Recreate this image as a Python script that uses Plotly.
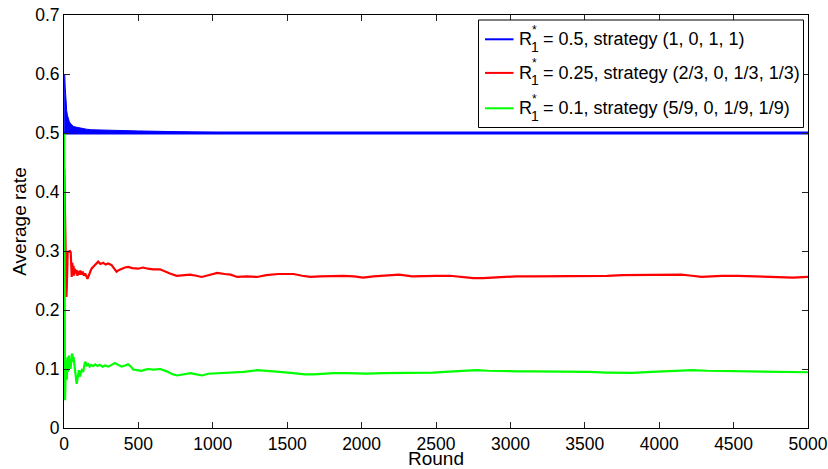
import plotly.graph_objects as go

# ---------------- data ----------------
x_ticks = [0, 500, 1000, 1500, 2000, 2500, 3000, 3500, 4000, 4500, 5000]
y_ticks = [0, 0.1, 0.2, 0.3, 0.4, 0.5, 0.6, 0.7]
y_tick_labels = ["0", "0.1", "0.2", "0.3", "0.4", "0.5", "0.6", "0.7"]

# blue: converges to 0.5, early rounds oscillate densely (drawn as band up to the envelope)
blue_rounds = [1, 5000]
blue_rate = [0.5, 0.5]
blue_env_rounds = [1, 5, 8, 11, 14, 18, 23, 29, 36, 44, 51, 65, 80, 96, 120, 150,
                   185, 240, 300, 400, 500, 700, 900, 1200]
blue_env_rate = [0.600, 0.598, 0.578, 0.560, 0.547, 0.538, 0.530, 0.524, 0.519, 0.516,
                 0.514, 0.511, 0.510, 0.509, 0.5075, 0.5065, 0.5055, 0.505, 0.5045,
                 0.504, 0.5035, 0.5025, 0.502, 0.500]

red_rounds = [2, 6, 10, 13, 16, 19, 22, 25, 30, 35, 40, 45, 49, 52, 56, 60, 64, 68, 72,
              78, 84, 90, 96, 102, 110, 118, 126, 134, 142, 150, 158, 166, 175, 185,
              200, 215, 230, 245, 263, 280, 297, 320, 340, 353, 370, 387, 410, 431,
              460, 498, 530, 565, 600, 645, 680, 712, 757, 800, 846, 890, 925, 970,
              1030, 1080, 1120, 1164, 1230, 1298, 1360, 1440, 1543, 1600, 1655, 1720,
              1800, 1877, 1950, 2010, 2080, 2170, 2252, 2340, 2420, 2500, 2594, 2680,
              2750, 2815, 2900, 2960, 3040, 3150, 3264, 3400, 3528, 3650, 3751, 3850,
              3930, 4050, 4150, 4220, 4285, 4350, 4420, 4530, 4643, 4740, 4820, 4900,
              5000]
red_rate = [0.440, 0.360, 0.300, 0.250, 0.222, 0.240, 0.270, 0.300, 0.298, 0.300, 0.300,
            0.298, 0.270, 0.256, 0.280, 0.262, 0.275, 0.258, 0.270, 0.262, 0.268, 0.258,
            0.266, 0.260, 0.267, 0.260, 0.265, 0.258, 0.262, 0.256, 0.253, 0.258, 0.265,
            0.270, 0.274, 0.279, 0.282, 0.278, 0.280, 0.277, 0.279, 0.276, 0.270, 0.265,
            0.268, 0.270, 0.272, 0.273, 0.271, 0.270, 0.272, 0.270, 0.269, 0.269, 0.266,
            0.262, 0.258, 0.259, 0.260, 0.258, 0.256, 0.259, 0.263, 0.261, 0.260, 0.256,
            0.257, 0.256, 0.259, 0.261, 0.261, 0.258, 0.256, 0.257, 0.258, 0.258, 0.257,
            0.255, 0.257, 0.259, 0.260, 0.257, 0.258, 0.258, 0.258, 0.256, 0.254, 0.254,
            0.255, 0.256, 0.257, 0.257, 0.257, 0.257, 0.257, 0.258, 0.259, 0.259, 0.260,
            0.260, 0.260, 0.258, 0.256, 0.257, 0.258, 0.258, 0.257, 0.256, 0.2545,
            0.255, 0.256]

green_rounds = [1, 3, 5, 7, 9, 11, 13, 15, 17, 19, 21, 23, 26, 29, 33, 36, 40, 44, 48,
                52, 56, 60, 64, 69, 74, 80, 85, 90, 95, 100, 105, 109, 114, 120, 129,
                135, 141, 148, 155, 163, 172, 182, 195, 210, 225, 240, 260, 275, 297,
                320, 342, 365, 387, 410, 431, 450, 465, 490, 521, 548, 565, 600, 647,
                690, 730, 760, 800, 850, 890, 928, 970, 1028, 1100, 1208, 1300, 1380,
                1450, 1540, 1620, 1677, 1740, 1810, 1900, 2030, 2150, 2260, 2400, 2480,
                2560, 2680, 2770, 2850, 2950, 3050, 3150, 3300, 3450, 3528, 3650, 3820,
                3950, 4090, 4224, 4320, 4420, 4530, 4643, 4820, 4920, 5000]
green_rate = [0.500, 0.300, 0.120, 0.047, 0.070, 0.110, 0.090, 0.115, 0.109, 0.082,
              0.100, 0.120, 0.095, 0.115, 0.123, 0.105, 0.112, 0.100, 0.118, 0.124,
              0.126, 0.112, 0.120, 0.110, 0.095, 0.083, 0.075, 0.082, 0.092, 0.098,
              0.090, 0.087, 0.095, 0.098, 0.095, 0.105, 0.112, 0.110, 0.106, 0.108,
              0.104, 0.107, 0.105, 0.108, 0.105, 0.107, 0.104, 0.106, 0.104, 0.107,
              0.110, 0.107, 0.104, 0.106, 0.108, 0.104, 0.099, 0.098, 0.097, 0.099,
              0.100, 0.099, 0.100, 0.096, 0.091, 0.089, 0.091, 0.093, 0.091, 0.089,
              0.092, 0.093, 0.094, 0.095, 0.098, 0.097, 0.095, 0.093, 0.091, 0.091,
              0.092, 0.093, 0.093, 0.092, 0.093, 0.093, 0.094, 0.094, 0.095, 0.097,
              0.098, 0.097, 0.096, 0.096, 0.096, 0.096, 0.095, 0.095, 0.094, 0.0935,
              0.095, 0.0967, 0.098, 0.097, 0.0967, 0.096, 0.096, 0.096, 0.095, 0.0945]

legend_r_values = ["0.5", "0.25", "0.1"]
legend_strategies = ["(1, 0, 1, 1)", "(2/3, 0, 1/3, 1/3)", "(5/9, 0, 1/9, 1/9)"]
colors = ["#0000ff", "#ff0000", "#00ff00"]

# ---------------- figure ----------------
W, H = 828, 469
ML, MT = 64, 15
MR = W - 808
MB = H - 428
PW, PH = W - ML - MR, H - MT - MB


def px(xp):  # window pixel -> paper
    return (xp - ML) / PW


def py(yp):
    return (H - MB - yp) / PH


fig = go.Figure()
fig.add_trace(go.Scatter(x=blue_rounds, y=blue_rate, mode="lines",
                         line=dict(color=colors[0], width=3), hoverinfo="skip",
                         name="R1* = " + legend_r_values[0]))
fig.add_trace(go.Scatter(x=blue_env_rounds, y=blue_env_rate, mode="lines",
                         fill="tonexty", fillcolor=colors[0],
                         line=dict(color=colors[0], width=1), hoverinfo="skip"))
fig.add_trace(go.Scatter(x=red_rounds, y=red_rate, mode="lines",
                         line=dict(color=colors[1], width=2.2), hoverinfo="skip",
                         name="R1* = " + legend_r_values[1]))
fig.add_trace(go.Scatter(x=green_rounds, y=green_rate, mode="lines",
                         line=dict(color=colors[2], width=2.2), hoverinfo="skip",
                         name="R1* = " + legend_r_values[2]))

font_family = "Liberation Sans, Arial, Helvetica, sans-serif"

fig.update_layout(
    width=W, height=H,
    margin=dict(l=ML, r=MR, t=MT, b=MB),
    plot_bgcolor="white", paper_bgcolor="white",
    font=dict(family=font_family, size=18, color="black"),
    showlegend=False,
)
fig.update_xaxes(range=[0, 5000], tickvals=x_ticks, tickformat="d",
                 ticks="inside", ticklen=6, tickcolor="#222", tickwidth=1,
                 showline=True, linecolor="black", linewidth=1, mirror="ticks",
                 showgrid=False, zeroline=False, automargin=False,
                 ticklabeloverflow="allow",
                 tickfont=dict(size=17.5),
                 title=dict(text="Round", font=dict(size=19), standoff=2))
fig.update_yaxes(range=[0, 0.7], tickvals=y_ticks, ticktext=y_tick_labels,
                 ticks="inside", ticklen=6, tickcolor="#222", tickwidth=1,
                 showline=True, linecolor="black", linewidth=1, mirror="ticks",
                 showgrid=False, zeroline=False, automargin=False,
                 ticklabeloverflow="allow",
                 tickfont=dict(size=17.5),
                 title=dict(text="Average rate", font=dict(size=19), standoff=3))

# ---------------- legend (drawn by hand to stack R's super/subscript) ----------------
box = dict(x0=478.5, x1=803.5, y0=20, y1=127.5)
fig.add_shape(type="rect", xref="paper", yref="paper",
              x0=px(box["x0"]), x1=px(box["x1"]), y0=py(box["y1"]), y1=py(box["y0"]),
              line=dict(color="black", width=1), fillcolor="white", layer="above")
row_y = [39.3, 72.9, 108.3]
for i in range(3):
    yc = row_y[i]
    fig.add_shape(type="line", xref="paper", yref="paper",
                  x0=px(485), x1=px(513.5), y0=py(yc), y1=py(yc),
                  line=dict(color=colors[i], width=2), layer="above")
    fig.add_annotation(x=px(517.5), y=py(yc), xref="paper", yref="paper",
                       text="R", showarrow=False, xanchor="left", yanchor="middle",
                       borderpad=0, font=dict(size=18))
    fig.add_annotation(x=px(534.5), y=py(yc - 9.5), xref="paper", yref="paper",
                       text="*", showarrow=False, xanchor="center", yanchor="middle",
                       borderpad=0, font=dict(size=12))
    fig.add_annotation(x=px(534.5), y=py(yc + 7.4), xref="paper", yref="paper",
                       text="1", showarrow=False, xanchor="center", yanchor="middle",
                       borderpad=0, font=dict(size=14))
    fig.add_annotation(x=px(542), y=py(yc), xref="paper", yref="paper",
                       text="= " + legend_r_values[i] + ", strategy " + legend_strategies[i],
                       showarrow=False, xanchor="left", yanchor="middle",
                       borderpad=0, font=dict(size=18))

# page without body margin / scrollbars so the figure fills the window exactly
fig.write_html("out.html",
               config={"displayModeBar": False},
               post_script="document.body.style.margin='0';"
                           "document.body.style.overflow='hidden';")
